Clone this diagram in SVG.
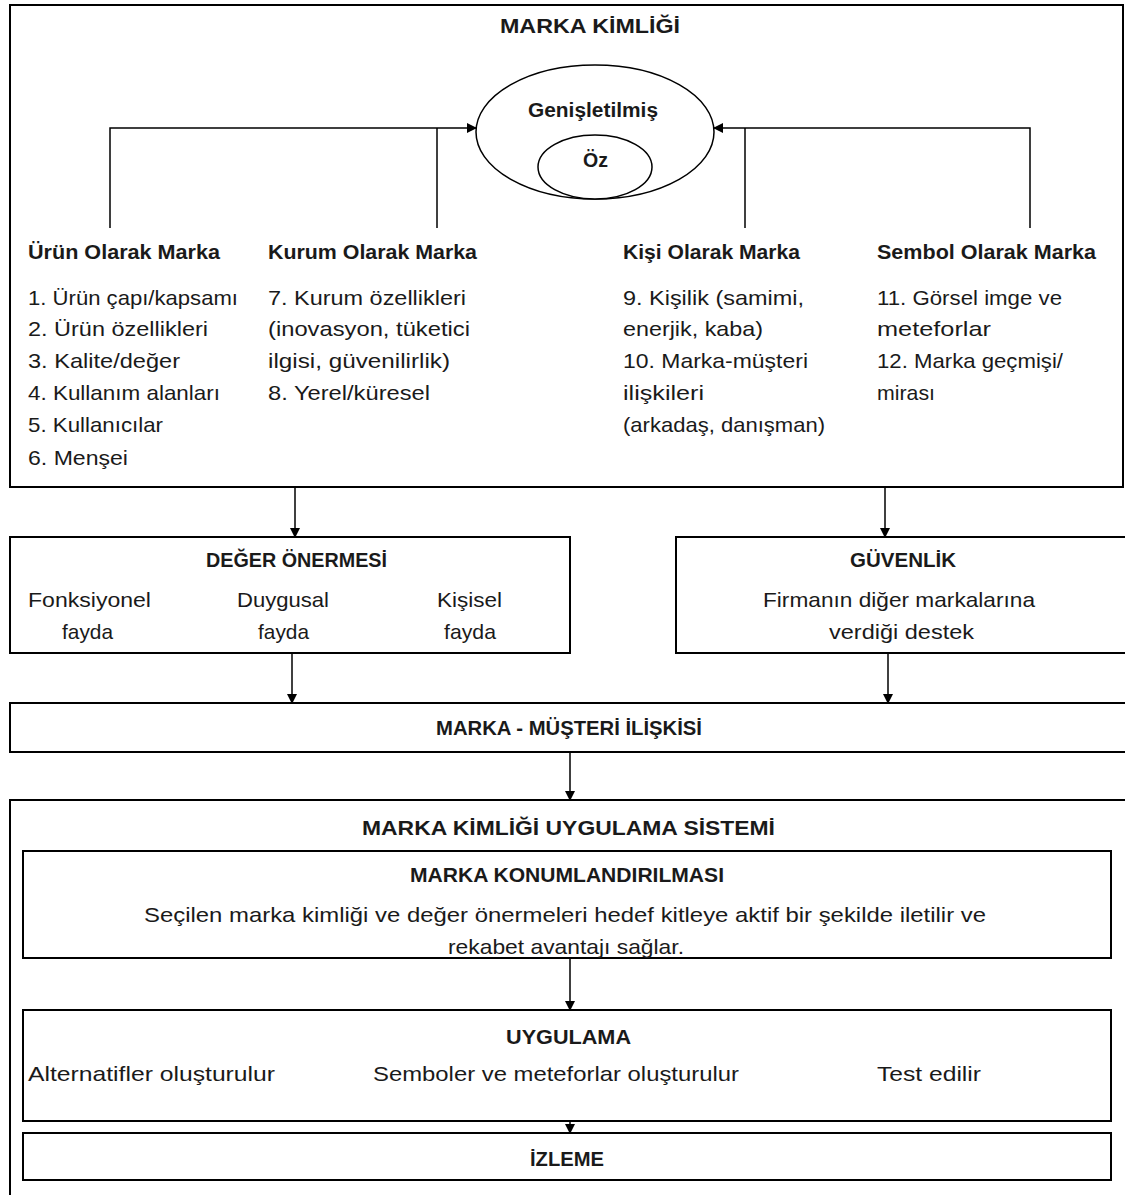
<svg xmlns="http://www.w3.org/2000/svg" width="1125" height="1195" viewBox="0 0 1125 1195">
<defs>
<marker id="ah" markerWidth="10" markerHeight="10" refX="9" refY="5" orient="auto" markerUnits="userSpaceOnUse">
<path d="M0,0 L10,5 L0,10 Z" fill="#000"/>
</marker>
<style>
.box{fill:#fff;stroke:#000;stroke-width:2}
.ln{fill:none;stroke:#000;stroke-width:1.5}
text{font-family:"Liberation Sans",Arial,sans-serif;font-size:21px;fill:#1a1a1a}
.b{font-weight:bold;font-size:20px}
.h{font-weight:bold;font-size:21px}
</style>
</defs>
<rect width="1125" height="1195" fill="#fff"/>

<g id="marka-kimligi">
<rect class="box" x="10" y="5" width="1113" height="482"/>
<text class="b" x="500" y="33" font-size="21" textLength="180" lengthAdjust="spacingAndGlyphs">MARKA KİMLİĞİ</text>
</g>
<g id="genisletilmis">
<ellipse cx="595" cy="132" rx="119" ry="67" fill="#fff" stroke="#000" stroke-width="1.5"/>
<text class="b" x="528" y="117" textLength="130" lengthAdjust="spacingAndGlyphs">Genişletilmiş</text>
</g>
<g id="oz">
<ellipse cx="595" cy="167" rx="57" ry="32" fill="#fff" stroke="#000" stroke-width="1.5"/>
<text class="b" x="583" y="167" textLength="25" lengthAdjust="spacingAndGlyphs">Öz</text>
</g>

<g id="urun">
<text class="h" x="28" y="259" textLength="192" lengthAdjust="spacingAndGlyphs">Ürün Olarak Marka</text>
<text x="28" y="305" textLength="210" lengthAdjust="spacingAndGlyphs">1. Ürün çapı/kapsamı</text>
<text x="28" y="336" textLength="180" lengthAdjust="spacingAndGlyphs">2. Ürün özellikleri</text>
<text x="28" y="368" textLength="152" lengthAdjust="spacingAndGlyphs">3. Kalite/değer</text>
<text x="28" y="400" textLength="192" lengthAdjust="spacingAndGlyphs">4. Kullanım alanları</text>
<text x="28" y="432" textLength="135" lengthAdjust="spacingAndGlyphs">5. Kullanıcılar</text>
<text x="28" y="465" textLength="100" lengthAdjust="spacingAndGlyphs">6. Menşei</text>
</g>
<g id="kurum">
<text class="h" x="268" y="259" textLength="209" lengthAdjust="spacingAndGlyphs">Kurum Olarak Marka</text>
<text x="268" y="305" textLength="198" lengthAdjust="spacingAndGlyphs">7. Kurum özellikleri</text>
<text x="268" y="336" textLength="202" lengthAdjust="spacingAndGlyphs">(inovasyon, tüketici</text>
<text x="268" y="368" textLength="182" lengthAdjust="spacingAndGlyphs">ilgisi, güvenilirlik)</text>
<text x="268" y="400" textLength="162" lengthAdjust="spacingAndGlyphs">8. Yerel/küresel</text>
</g>
<g id="kisi">
<text class="h" x="623" y="259" textLength="177" lengthAdjust="spacingAndGlyphs">Kişi Olarak Marka</text>
<text x="623" y="305" textLength="181" lengthAdjust="spacingAndGlyphs">9. Kişilik (samimi,</text>
<text x="623" y="336" textLength="140" lengthAdjust="spacingAndGlyphs">enerjik, kaba)</text>
<text x="623" y="368" textLength="185" lengthAdjust="spacingAndGlyphs">10. Marka-müşteri</text>
<text x="623" y="400" textLength="81" lengthAdjust="spacingAndGlyphs">ilişkileri</text>
<text x="623" y="432" textLength="202" lengthAdjust="spacingAndGlyphs">(arkadaş, danışman)</text>
</g>
<g id="sembol">
<text class="h" x="877" y="259" textLength="219" lengthAdjust="spacingAndGlyphs">Sembol Olarak Marka</text>
<text x="877" y="305" textLength="185" lengthAdjust="spacingAndGlyphs">11. Görsel imge ve</text>
<text x="877" y="336" textLength="114" lengthAdjust="spacingAndGlyphs">meteforlar</text>
<text x="877" y="368" textLength="186" lengthAdjust="spacingAndGlyphs">12. Marka geçmişi/</text>
<text x="877" y="400" textLength="58" lengthAdjust="spacingAndGlyphs">mirası</text>
</g>

<g id="deger">
<rect class="box" x="10" y="537" width="560" height="116"/>
<text class="b" x="206" y="567" textLength="181" lengthAdjust="spacingAndGlyphs">DEĞER ÖNERMESİ</text>
<text x="28" y="607" textLength="123" lengthAdjust="spacingAndGlyphs">Fonksiyonel</text>
<text x="62" y="639" textLength="51" lengthAdjust="spacingAndGlyphs">fayda</text>
<text x="237" y="607" textLength="92" lengthAdjust="spacingAndGlyphs">Duygusal</text>
<text x="258" y="639" textLength="51" lengthAdjust="spacingAndGlyphs">fayda</text>
<text x="437" y="607" textLength="65" lengthAdjust="spacingAndGlyphs">Kişisel</text>
<text x="444" y="639" textLength="52" lengthAdjust="spacingAndGlyphs">fayda</text>
</g>
<g id="guvenlik">
<rect class="box" x="676" y="537" width="460" height="116"/>
<text class="b" x="850" y="567" textLength="106" lengthAdjust="spacingAndGlyphs">GÜVENLİK</text>
<text x="763" y="607" textLength="272" lengthAdjust="spacingAndGlyphs">Firmanın diğer markalarına</text>
<text x="829" y="639" textLength="145" lengthAdjust="spacingAndGlyphs">verdiği destek</text>
</g>
<g id="musteri">
<rect class="box" x="10" y="703" width="1126" height="49"/>
<text class="b" x="436" y="735" textLength="266" lengthAdjust="spacingAndGlyphs">MARKA - MÜŞTERİ İLİŞKİSİ</text>
</g>
<g id="sistem">
<rect class="box" x="10" y="800" width="1126" height="405"/>
<text class="b" x="362" y="835" font-size="22" textLength="413" lengthAdjust="spacingAndGlyphs">MARKA KİMLİĞİ UYGULAMA SİSTEMİ</text>
</g>
<g id="konum">
<rect class="box" x="23" y="851" width="1088" height="107"/>
<text class="b" x="410" y="882" textLength="314" lengthAdjust="spacingAndGlyphs">MARKA KONUMLANDIRILMASI</text>
<text x="144" y="922" textLength="842" lengthAdjust="spacingAndGlyphs">Seçilen marka kimliği ve değer önermeleri hedef kitleye aktif bir şekilde iletilir  ve</text>
<text x="448" y="954" textLength="236" lengthAdjust="spacingAndGlyphs">rekabet avantajı sağlar.</text>
</g>
<g id="uygulama">
<rect class="box" x="23" y="1010" width="1088" height="111"/>
<text class="b" x="506" y="1044" textLength="125" lengthAdjust="spacingAndGlyphs">UYGULAMA</text>
<text x="28" y="1081" textLength="247" lengthAdjust="spacingAndGlyphs">Alternatifler oluşturulur</text>
<text x="373" y="1081" textLength="366" lengthAdjust="spacingAndGlyphs">Semboler ve meteforlar oluşturulur</text>
<text x="877" y="1081" textLength="104" lengthAdjust="spacingAndGlyphs">Test edilir</text>
</g>
<g id="izleme">
<rect class="box" x="23" y="1133" width="1088" height="47"/>
<text class="b" x="530" y="1166" textLength="74" lengthAdjust="spacingAndGlyphs">İZLEME</text>
</g>

<g id="connectors">
<path class="ln" d="M110,228 V128 H476" marker-end="url(#ah)"/>
<path class="ln" d="M437,228 V128"/>
<path class="ln" d="M1030,228 V128 H714" marker-end="url(#ah)"/>
<path class="ln" d="M745,228 V128"/>
<path class="ln" d="M295,487 V537" marker-end="url(#ah)"/>
<path class="ln" d="M885,487 V537" marker-end="url(#ah)"/>
<path class="ln" d="M292,653 V703" marker-end="url(#ah)"/>
<path class="ln" d="M888,653 V703" marker-end="url(#ah)"/>
<path class="ln" d="M570,752 V800" marker-end="url(#ah)"/>
<path class="ln" d="M570,958 V1010" marker-end="url(#ah)"/>
<path class="ln" d="M570,1121 V1133" marker-end="url(#ah)"/>
</g>
</svg>
